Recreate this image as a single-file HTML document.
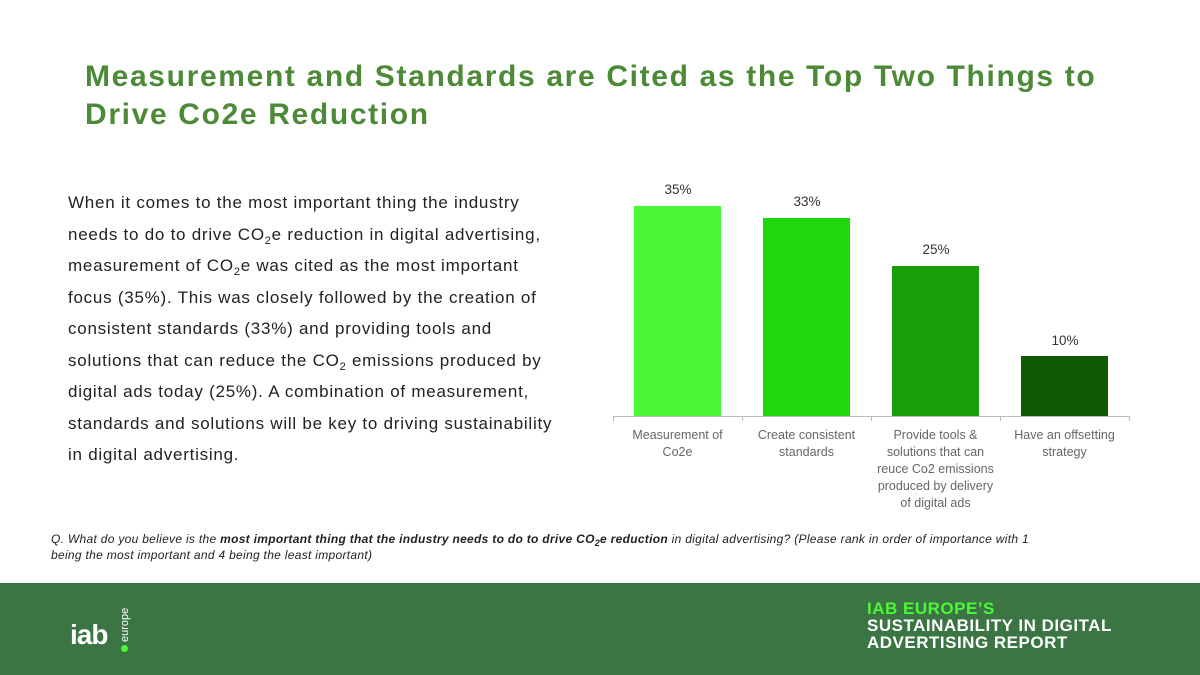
<!DOCTYPE html>
<html><head><meta charset="utf-8"><style>
body{margin:0;width:1200px;height:675px;position:relative;background:#fff;font-family:"Liberation Sans",sans-serif;overflow:hidden}
.t{position:absolute;left:85px;top:58px;font-size:30px;font-weight:bold;color:#4c8a37;line-height:38px;letter-spacing:1.65px}
.p{position:absolute;left:68px;top:187px;width:485px;font-size:17px;line-height:31.5px;color:#222;letter-spacing:0.75px}
.p sub{font-size:11px;vertical-align:baseline;position:relative;top:4px;line-height:0}
.q{position:absolute;left:51px;top:531px;font-size:12px;font-style:italic;color:#222;line-height:16px;width:1010px;letter-spacing:0.3px}
.f{position:absolute;left:0;top:583px;width:1200px;height:92px;background:#3a7543}
.bar{position:absolute}
.v{position:absolute;font-size:13.5px;color:#333;width:90px;text-align:center}
.l{position:absolute;font-size:12.5px;color:#666;width:129px;text-align:center;line-height:17px;top:427px}
</style></head><body>
<div class="t">Measurement and Standards are Cited as the Top Two Things to<br>Drive Co2e Reduction</div>
<div class="p">When it comes to the most important thing the industry needs to do to drive CO<sub>2</sub>e reduction in digital advertising, measurement of CO<sub>2</sub>e was cited as the most important focus (35%). This was closely followed by the creation of consistent standards (33%) and providing tools and solutions that can reduce the CO<sub>2</sub> emissions produced by digital ads today (25%). A combination of measurement, standards and solutions will be key to driving sustainability in digital advertising.</div>

<div class="bar" style="left:634px;top:206px;width:87px;height:210px;background:#4cf736"></div>
<div class="bar" style="left:763px;top:218px;width:87px;height:198px;background:#1fd70b"></div>
<div class="bar" style="left:892px;top:266px;width:87px;height:150px;background:#1a9e0a"></div>
<div class="bar" style="left:1021px;top:356px;width:87px;height:60px;background:#0f5a05"></div>
<div class="v" style="left:633px;top:182px">35%</div>
<div class="v" style="left:762px;top:194px">33%</div>
<div class="v" style="left:891px;top:242px">25%</div>
<div class="v" style="left:1020px;top:333px">10%</div>
<div style="position:absolute;left:613px;top:416px;width:517px;height:1px;background:#bbb"></div>
<div style="position:absolute;left:613px;top:416px;width:1px;height:5px;background:#bbb"></div>
<div style="position:absolute;left:742px;top:416px;width:1px;height:5px;background:#bbb"></div>
<div style="position:absolute;left:871px;top:416px;width:1px;height:5px;background:#bbb"></div>
<div style="position:absolute;left:1000px;top:416px;width:1px;height:5px;background:#bbb"></div>
<div style="position:absolute;left:1129px;top:416px;width:1px;height:5px;background:#bbb"></div>
<div class="l" style="left:613px">Measurement of<br>Co2e</div>
<div class="l" style="left:742px">Create consistent<br>standards</div>
<div class="l" style="left:871px">Provide tools &amp;<br>solutions that can<br>reuce Co2 emissions<br>produced by delivery<br>of digital ads</div>
<div class="l" style="left:1000px">Have an offsetting<br>strategy</div>

<div class="q">Q. What do you believe is the <b>most important thing that the industry needs to do to drive CO<sub style="font-size:9px;vertical-align:baseline;position:relative;top:3px;line-height:0">2</sub>e reduction</b> in digital advertising? (Please rank in order of importance with 1 being the most important and 4 being the least important)</div>

<div class="f">
<div style="position:absolute;left:70px;top:36px;font-size:28px;font-weight:bold;color:#fff;letter-spacing:-1px">iab</div>
<div style="position:absolute;left:121px;top:62px;width:7px;height:7px;border-radius:50%;background:#4cf736"></div>
<div style="position:absolute;left:120px;top:59px;font-size:11px;color:#fff;transform:rotate(-90deg);transform-origin:left top;line-height:11px">europe</div>
<div style="position:absolute;left:867px;top:17px;font-size:17px;font-weight:bold;color:#fff;line-height:17px;letter-spacing:0.5px">
<span style="color:#4cf736">IAB EUROPE’S</span><br>SUSTAINABILITY IN DIGITAL<br>ADVERTISING REPORT</div>
</div>
</body></html>
